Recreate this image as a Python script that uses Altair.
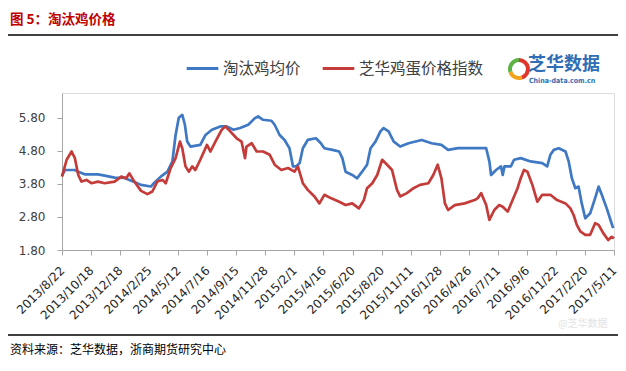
import altair as alt
import pandas as pd

# ---------------- data ----------------
tick_labels = ["2013/8/22", "2013/10/18", "2013/12/18", "2014/2/25", "2014/5/12",
               "2014/7/16", "2014/9/15", "2014/11/28", "2015/2/1", "2015/4/16",
               "2015/6/20", "2015/8/20", "2015/11/11", "2016/1/28", "2016/4/26",
               "2016/7/11", "2016/9/6", "2016/11/22", "2017/2/20", "2017/5/11"]

# position along the category axis (in tick units) and value
blue_pos = [0.00, 0.10, 0.44, 0.56, 0.78, 1.24, 1.47, 1.81, 2.15, 2.49, 2.72, 3.06, 3.17,
            3.40, 3.63, 3.80, 3.91, 4.02, 4.14, 4.23, 4.31, 4.42, 4.76, 4.94, 5.16, 5.45,
            5.67, 5.90, 6.13, 6.41, 6.64, 6.75, 6.92, 7.21, 7.32, 7.49, 7.66, 7.83, 7.95,
            8.06, 8.18, 8.29, 8.46, 8.74, 8.91, 9.03, 9.31, 9.54, 9.65, 9.76, 9.99, 10.16,
            10.33, 10.50, 10.62, 10.79, 10.96, 11.07, 11.24, 11.42, 11.64, 11.93, 12.38,
            12.72, 13.06, 13.29, 13.63, 14.09, 14.60, 14.71, 14.77, 14.94, 15.11, 15.17,
            15.23, 15.45, 15.56, 15.79, 16.13, 16.53, 16.70, 16.81, 16.93, 17.10, 17.33,
            17.44, 17.55, 17.67, 17.78, 17.89, 18.01, 18.18, 18.35, 18.47, 18.58, 18.75,
            18.86, 18.97]
blue_val = [4.05, 4.22, 4.22, 4.17, 4.09, 4.09, 4.05, 3.99, 3.98, 3.86, 3.77, 3.72, 3.83,
            4.02, 4.17, 4.48, 5.28, 5.80, 5.89, 5.59, 5.08, 4.93, 4.98, 5.28, 5.44, 5.54,
            5.54, 5.44, 5.49, 5.59, 5.79, 5.84, 5.74, 5.71, 5.59, 5.28, 5.13, 4.88, 4.33,
            4.33, 4.43, 4.88, 5.13, 5.18, 5.03, 4.88, 4.83, 4.78, 4.58, 4.17, 4.07, 3.97,
            4.17, 4.38, 4.88, 5.08, 5.39, 5.49, 5.39, 5.08, 4.93, 5.03, 5.13,
            5.03, 4.98, 4.83, 4.88, 4.88, 4.88, 4.48, 4.07, 4.22, 4.33, 4.07,
            4.33, 4.33, 4.53, 4.58, 4.48, 4.43, 4.33, 4.68, 4.83, 4.88, 4.78,
            4.48, 3.97, 3.67, 3.72, 3.21, 2.76, 2.91, 3.37, 3.72, 3.47, 3.06,
            2.76, 2.46]

red_pos = [0.00, 0.16, 0.33, 0.44, 0.56, 0.67, 0.84, 1.01, 1.24, 1.47, 1.81, 2.04, 2.21,
           2.32, 2.49, 2.72, 2.94, 3.11, 3.28, 3.46, 3.57, 3.74, 3.91, 4.06, 4.14, 4.25,
           4.37, 4.48, 4.59, 4.76, 4.99, 5.11, 5.28, 5.50, 5.62, 5.79, 6.01, 6.18, 6.30,
           6.35, 6.53, 6.70, 6.92, 7.15, 7.32, 7.55, 7.78, 8.00, 8.12, 8.29, 8.46, 8.69,
           8.86, 9.03, 9.25, 9.54, 9.76, 9.99, 10.22, 10.39, 10.50, 10.68, 10.85, 11.02,
           11.19, 11.36, 11.53, 11.64, 11.87, 12.10, 12.32, 12.61, 12.78, 12.93, 13.06,
           13.18, 13.29, 13.52, 13.86, 14.20, 14.31, 14.43, 14.60, 14.71, 14.88, 15.05,
           15.17, 15.34, 15.51, 15.68, 15.79, 15.90, 16.02, 16.19, 16.36, 16.53, 16.81,
           17.04, 17.33, 17.50, 17.61, 17.72, 17.84, 18.01, 18.18, 18.35, 18.47, 18.63,
           18.80, 18.92, 19.00]
red_val = [4.02, 4.53, 4.78, 4.59, 4.07, 3.87, 3.92, 3.82, 3.87, 3.82, 3.87, 4.02, 3.97,
           4.12, 3.87, 3.59, 3.49, 3.57, 3.87, 3.92, 3.82, 4.28, 4.58, 5.08, 4.88, 4.33,
           4.17, 4.33, 4.22, 4.53, 4.98, 4.78, 5.08, 5.44, 5.54, 5.39, 5.18, 5.08, 4.58,
           4.93, 5.03, 4.78, 4.78, 4.68, 4.38, 4.22, 4.28, 4.17, 4.33, 3.82, 3.62, 3.42,
           3.21, 3.47, 3.37, 3.26, 3.16, 3.21, 3.06, 3.31, 3.67, 3.82, 4.07, 4.53,
           4.38, 4.22, 3.62, 3.42, 3.52, 3.67, 3.77, 3.82, 4.07, 4.38, 3.97,
           3.21, 3.01, 3.16, 3.21, 3.31, 3.37, 3.52, 3.16, 2.71, 3.01, 3.16,
           3.11, 2.96, 3.31, 3.67, 3.97, 4.22, 4.17, 3.77, 3.26, 3.47, 3.47,
           3.31, 3.21, 3.06, 2.86, 2.56, 2.36, 2.26, 2.26, 2.61, 2.56, 2.31,
           2.10, 2.20, 2.15]

series_names = ["淘汰鸡均价", "芝华鸡蛋价格指数"]
series_colors = ["#3F78C3", "#C43C3A"]
y_ticks = [1.8, 2.8, 3.8, 4.8, 5.8]

title_text = "图 5：淘汰鸡价格"
source_text = "资料来源：芝华数据，浙商期货研究中心"

# ---------------- build table ----------------
df = pd.concat([
    pd.DataFrame({"pos": blue_pos, "val": blue_val, "series": series_names[0], "order": range(len(blue_pos))}),
    pd.DataFrame({"pos": red_pos, "val": red_val, "series": series_names[1], "order": range(len(red_pos))}),
])

W, H = 552, 157
label_expr = "[" + ",".join("'%s'" % s for s in tick_labels) + "][round(datum.value)]"

lines = alt.Chart(df).mark_line(strokeWidth=2.7, strokeJoin="round").encode(
    x=alt.X("pos:Q", scale=alt.Scale(domain=[0, 19], nice=False, zero=False),
            axis=alt.Axis(values=list(range(20)), labelExpr=label_expr, title=None,
                          labelAngle=-45, labelAlign="right", labelBaseline="middle",
                          labelFontSize=12, labelFont="DejaVu Sans",
                          labelColor="#262626", tickSize=5, tickColor="#A6A6A6",
                          domainColor="#A6A6A6", grid=False, labelPadding=13,
                          labelOverlap=False)),
    y=alt.Y("val:Q", scale=alt.Scale(domain=[1.8, 6.55], nice=False, zero=False),
            axis=alt.Axis(values=y_ticks, format=".2f", title=None, labelFontSize=12,
                          labelFont="DejaVu Sans", labelColor="#404040", tickSize=5,
                          tickColor="#A6A6A6", domainColor="#A6A6A6", grid=False,
                          labelPadding=12)),
    color=alt.Color("series:N", scale=alt.Scale(domain=series_names, range=series_colors),
                    legend=alt.Legend(orient="none", legendX=123, legendY=-42,
                                      direction="horizontal", title=None,
                                      symbolType="stroke", symbolSize=1000,
                                      symbolStrokeWidth=3, labelFont="Noto Sans CJK SC",
                                      labelFontSize=15.5, labelColor="#404040",
                                      columnPadding=15, labelOffset=3)),
    order="order:Q",
)

def txt(text, x, y, size, color, weight="normal", font="Noto Sans CJK SC", align="left"):
    return alt.Chart(pd.DataFrame({"t": [text]})).mark_text(
        align=align, baseline="middle", fontSize=size, color=color,
        fontWeight=weight, font=font).encode(
        text="t:N", x=alt.value(x), y=alt.value(y))

def hline(y):
    return alt.Chart(pd.DataFrame({"a": [0]})).mark_rule(color="#000000", strokeWidth=1.5).encode(
        x=alt.value(-54), x2=alt.value(W + 4), y=alt.value(y))

title = txt(title_text, -52, -73, 13.5, "#C00000", weight="bold")
source = txt(source_text, -52, 257, 12, "#000000")
logo_cn = txt("芝华数据", 466, -28, 18, "#2F6EB5", weight="bold")
logo_en = txt("China-data.com.cn", 467, -12, 7, "#2F6EB5", weight="bold", font="DejaVu Sans Condensed")
watermark = txt("@芝华数据", 496, 231, 10, "#E3E3E3")

logo_df = pd.DataFrame({"seg": [1, 2, 3], "share": [45, 25, 30],
                        "c": ["#E0352B", "#F2A31B", "#5DB345"]})
logo_arc = alt.Chart(logo_df).mark_arc(radius=11, radius2=7).encode(
    theta=alt.Theta("share:Q", stack=True), fill=alt.Fill("c:N", scale=None),
    order="seg:Q", x=alt.value(457), y=alt.value(-24))

chart = alt.layer(
    lines, title, source, logo_cn, logo_en, watermark, logo_arc, hline(-58), hline(242)
).properties(
    width=W, height=H,
    autosize=alt.AutoSizeParams(type="none"),
    padding={"left": 54, "top": 85, "right": 4, "bottom": 113},
).configure_view(stroke=None).configure(background="white")

chart.save("out.html", embed_options={"renderer": "svg", "actions": False})
